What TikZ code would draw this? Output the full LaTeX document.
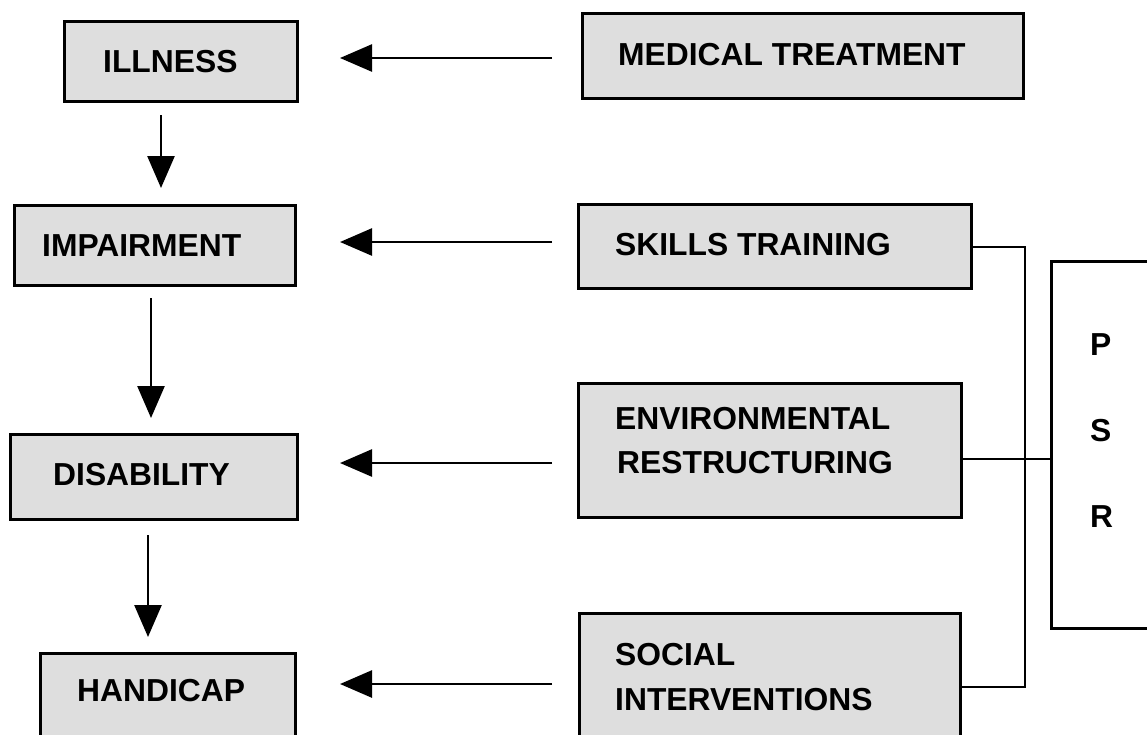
\documentclass[tikz,border=0pt]{standalone}
\usepackage{fontspec}
\setmainfont{Liberation Sans}
\usetikzlibrary{arrows.meta}
\definecolor{boxgrey}{RGB}{222,222,222}
\begin{document}
\begin{tikzpicture}[x=1pt,y=-1pt,
  box/.style={draw=black, line width=3pt, fill=boxgrey, inner sep=0pt, anchor=north west},
  frame/.style={draw=black, line width=3pt, inner sep=0pt, anchor=north west},
  lbl/.style={anchor=base west, inner sep=0pt, font=\fontsize{31.8}{44}\selectfont\bfseries},
  flow/.style={line width=2.6pt, -{Triangle[length=32pt,width=27pt]}},
  link/.style={line width=2.5pt}]
\useasboundingbox (0,0) rectangle (1147,734);
\clip (0,0) rectangle (1147,734);

% consequence chain (left column)
\node[box, minimum width=233pt, minimum height=80pt] (illness) at (63,20) {};
\node[box, minimum width=281pt, minimum height=80pt] (impair) at (13,204) {};
\node[box, minimum width=287pt, minimum height=85pt] (disab) at (9,433) {};
\node[box, minimum width=255pt, minimum height=93pt] (handi) at (39,652) {};

% interventions (middle column)
\node[box, minimum width=441pt, minimum height=85pt] (medical) at (581,12) {};
\node[box, minimum width=393pt, minimum height=84pt] (skills) at (577,203) {};
\node[box, minimum width=383pt, minimum height=134pt] (env) at (577,382) {};
\node[box, minimum width=381pt, minimum height=133pt] (social) at (578,612) {};

% PSR frame, running off the right edge
\node[frame, minimum width=115pt, minimum height=367pt] (psr) at (1050,260) {};

% labels
\node[lbl] (tIll) at (103,72) {ILLNESS};
\node[lbl] (tImp) at (42,256) {IMPAIRMENT};
\node[lbl] (tDis) at (53,485) {DISABILITY};
\node[lbl] (tHan) at (77,701) {HANDICAP};
\node[lbl] (tMed) at (618,65) {MEDICAL TREATMENT};
\node[lbl] (tSki) at (615,255) {SKILLS TRAINING};
\node[lbl] (tEnv1) at (615,429) {ENVIRONMENTAL};
\node[lbl] (tEnv2) at (617,473) {RESTRUCTURING};
\node[lbl] (tSoc1) at (615,665) {SOCIAL};
\node[lbl] (tSoc2) at (615,710) {INTERVENTIONS};
\node[lbl] (tP) at (1090,355) {P};
\node[lbl] (tS) at (1090,441) {S};
\node[lbl] (tR) at (1090,527) {R};

% guide coordinates for arrow and link lines
\coordinate (v1) at (161,0);
\coordinate (v2) at (151,0);
\coordinate (v3) at (148,0);
\coordinate (h1) at (0,58);
\coordinate (h2) at (0,242);
\coordinate (h3) at (0,463);
\coordinate (h4) at (0,684);
\coordinate (busTop) at (1025,247);
\coordinate (busBot) at (1025,687);
\coordinate (envLink) at (0,459);

% downward chain arrows
\draw[flow, shorten <=12pt, shorten >=16pt] (illness.south -| v1) -- (impair.north -| v1);
\draw[flow, shorten <=11pt, shorten >=15pt] (impair.south -| v2) -- (disab.north -| v2);
\draw[flow, shorten <=14pt, shorten >=15pt] (disab.south -| v3) -- (handi.north -| v3);

% intervention arrows
\draw[flow, shorten <=29pt, shorten >=41pt] (medical.west |- h1) -- (illness.east |- h1);
\draw[flow, shorten <=25pt, shorten >=43pt] (skills.west |- h2) -- (impair.east |- h2);
\draw[flow, shorten <=25pt, shorten >=41pt] (env.west |- h3) -- (disab.east |- h3);
\draw[flow, shorten <=26pt, shorten >=43pt] (social.west |- h4) -- (handi.east |- h4);

% PSR bracket links
\draw[link] (skills.east |- busTop) -- (busTop) -- (busBot) -- (social.east |- busBot);
\draw[link] (env.east |- envLink) -- (psr.west |- envLink);
\end{tikzpicture}
\end{document}
